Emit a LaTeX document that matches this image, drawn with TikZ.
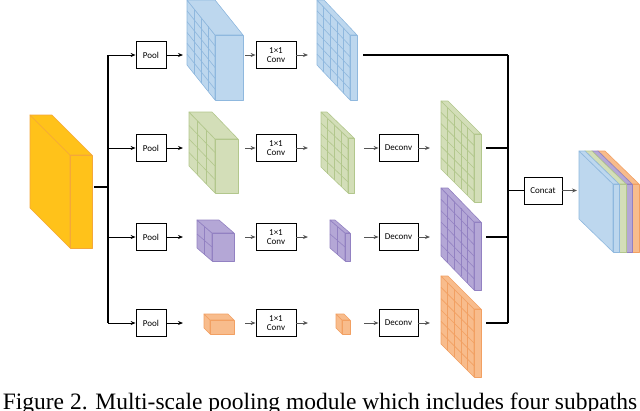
\documentclass[tikz,border=0pt]{standalone}
\usepackage{fontspec}
\setmainfont{Liberation Serif}
\newfontfamily\boxfont{Carlito}
\usetikzlibrary{arrows.meta}
\definecolor{bF}{HTML}{BDD7EE}\definecolor{bD}{HTML}{8FB8DE}
\definecolor{gF}{HTML}{D3DEB8}\definecolor{gD}{HTML}{B2C78C}
\definecolor{pF}{HTML}{B4A7D6}\definecolor{pD}{HTML}{9281C2}
\definecolor{oF}{HTML}{F8BC8C}\definecolor{oD}{HTML}{F2A062}
\definecolor{yF}{HTML}{FFC21A}\definecolor{yD}{HTML}{F4A83A}
\definecolor{arr}{HTML}{555555}
% \cub[style]{x}{ytop}{t}{h}{dx}{dy}{nd}{nh}
\newcommand\cub[9][]{%
 \begin{scope}[#1]
  \filldraw (#2,#3) -- (#2,#3+#5) -- (#2-#6,#3+#5-#7) -- (#2-#6,#3-#7) -- cycle;
  \filldraw (#2,#3) -- (#2+#4,#3) -- (#2+#4-#6,#3-#7) -- (#2-#6,#3-#7) -- cycle;
  \filldraw (#2,#3) rectangle (#2+#4,#3+#5);
  \ifnum#8>1
   \foreach \i in {1,...,\numexpr#8-1\relax}{
    \draw ({#2-#6*\i/#8},{#3-#7*\i/#8}) -- ({#2-#6*\i/#8},{#3-#7*\i/#8+#5});}
  \fi
  \ifnum#9>1
   \foreach \j in {1,...,\numexpr#9-1\relax}{
    \draw ({#2},{#3+#5*\j/#9}) -- ({#2-#6},{#3+#5*\j/#9-#7});}
  \fi
 \end{scope}}
\tikzset{
 box/.style={draw=black,line width=0.8pt,fill=white,inner sep=1pt,align=center,
   font=\boxfont\fontsize{9}{9.5}\selectfont},
 pool/.style={box,minimum width=30pt,minimum height=27pt},
 conv/.style={box,minimum width=40pt,minimum height=27pt},
 bl/.style={line width=0.6pt,line join=round},
 blue/.style={bl,fill=bF,draw=bD},
 green/.style={bl,fill=gF,draw=gD},
 purple/.style={bl,fill=pF,draw=pD},
 orange/.style={bl,fill=oF,draw=oD},
 yellow/.style={bl,fill=yF,draw=yD},
 ka/.style={-{Stealth[length=5pt,width=4pt]},line width=1pt,black},
 ga/.style={-{Stealth[length=5pt,width=4pt]},line width=1pt,arr},
 wire/.style={line width=1.3pt,black}
}
\begin{document}
\begin{tikzpicture}[x=1pt,y=-1pt]
\useasboundingbox (0,0) rectangle (640,410);
% input
\cub[yellow]{70}{155}{22}{93}{40}{40}{0}{0}
% row 1
\cub[blue]{215}{35}{28}{65}{28}{35}{4}{6}
\cub[blue]{350}{35}{7}{65}{33}{35}{5}{6}
% row 2
\cub[green]{215}{139}{23}{54}{26}{27}{3}{4}
\cub[green]{348}{138}{6}{55}{27}{26}{4}{5}
\cub[green]{474}{134}{7}{68}{33}{33}{5}{6}
% row 3
\cub[purple]{212}{233}{22}{28}{15}{13}{2}{2}
\cub[purple]{345}{233}{5}{28}{15}{13}{2}{2}
\cub[purple]{474}{222}{7}{68}{33}{34}{5}{6}
% row 4
\cub[orange]{210}{320}{24}{14}{6}{6}{0}{0}
\cub[orange]{342}{320}{8}{14}{6}{6}{0}{0}
\cub[orange]{474}{309}{7}{68}{33}{33}{5}{6}
% output stack
\cub[orange]{632}{184}{7}{68}{34}{33}{0}{0}
\cub[purple]{626}{184}{6}{68}{34}{33}{0}{0}
\cub[green]{619}{184}{7}{68}{34}{33}{0}{0}
\cub[blue]{613}{184}{6}{68}{34}{33}{0}{0}

% nodes
\foreach \r/\y in {1/55,2/148,3/237,4/323}{
  \node[pool] (pool\r) at (151,\y) {Pool};
  \node[conv] (conv\r) at (276,\y) {1×1\\Conv};
  \coordinate (lb\r) at (108,\y);
}
\foreach \r/\y in {2/148,3/237,4/323}{
  \node[conv,minimum width=39pt] (dec\r) at (398.5,\y) {Deconv};
  \coordinate (rb\r) at (508,\y);
}
\coordinate (rb1) at (508,55);
\node[conv,minimum width=38pt] (concat) at (543,190.5) {Concat};

% arrow end coordinates
\coordinate (in) at (94,187); \coordinate (lbm) at (108,187);
\coordinate (c1a) at (183,55); \coordinate (c1b) at (245,55);
\coordinate (s1a) at (308,55); \coordinate (s1b) at (363,55);
\foreach \r/\y in {2/148,3/237,4/323}{
  \coordinate (c\r a) at (183,\y); \coordinate (c\r b) at (245,\y);
  \coordinate (s\r a) at (308,\y); \coordinate (s\r b) at (364,\y);
  \coordinate (d\r b) at (486,\y);
}
\coordinate (dd2) at (430,148);\coordinate (dd3) at (430,237);\coordinate (dd4) at (430,323);
\coordinate (cm) at (508,190.5); \coordinate (out) at (577,190.5);

% wires
\draw[wire] (in) -- (lbm);
\draw[wire] (lb1) -- (lb4);
\draw[wire] (rb1) -- (rb4);
\draw[wire] (s1b) -- (rb1);
\foreach \r in {2,3,4}{ \draw[wire] (d\r b) -- (rb\r); }
\draw[wire] (cm) -- (concat);
\foreach \r in {1,2,3,4}{
  \draw[ka] (lb\r) -- (pool\r);
  \draw[ka] (pool\r) -- (c\r a);
  \draw[ga] (c\r b) -- (conv\r);
  \draw[ga] (conv\r) -- (s\r a);
}
\foreach \r in {2,3,4}{
  \draw[ga] (s\r b) -- (dec\r);
  \draw[ga] (dec\r) -- (dd\r);
}
\draw[ga] (concat) -- (out);

\node[font=\fontsize{23.5}{24}\selectfont,anchor=base,inner sep=0pt] (cap) at (320,409)
 {Figure 2. Multi-scale pooling module which includes four subpaths};
\end{tikzpicture}
\end{document}
